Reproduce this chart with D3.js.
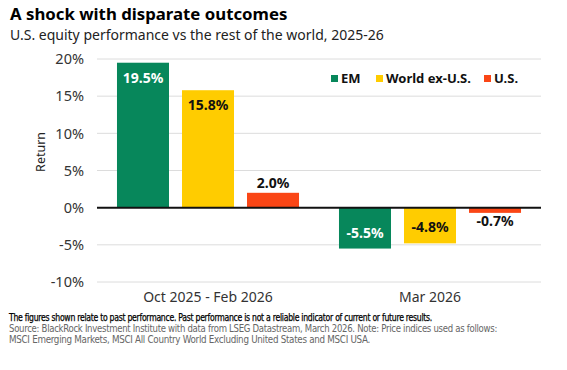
<!DOCTYPE html>
<html>
<head>
<meta charset="utf-8">
<script src="https://cdn.jsdelivr.net/npm/d3@7"></script>
<style>
  body { margin: 0; background: #fff; }
  text { font-family: "Noto Sans", "DejaVu Sans", sans-serif; }
  .foot { font-family: "Liberation Sans Narrow", "DejaVu Sans Condensed", "Liberation Sans", sans-serif; }
</style>
</head>
<body>
<div id="chart"></div>
<script>
const width = 567;
const height = 370;

// data
const periods = ["Oct 2025 - Feb 2026", "Mar 2026"];
const seriesNames = ["EM", "World ex-U.S.", "U.S."];
const emValues = [19.5, -5.5];
const worldValues = [15.8, -4.8];
const usValues = [2.0, -0.7];
const yTicks = [-10, -5, 0, 5, 10, 15, 20];
const colors = ["#07875b", "#ffcc00", "#fa4616"];
const labelColors = ["#fff", "#111", "#111"];

const allValues = [emValues, worldValues, usValues];
const rows = [];
periods.forEach((p, i) => {
  seriesNames.forEach((s, j) => {
    rows.push({ period: p, series: s, idx: j, value: allValues[j][i] });
  });
});

const margin = { left: 97, right: 26, top: 59, bottom: 88 };

const svg = d3.select("#chart")
  .append("svg")
  .attr("width", width)
  .attr("height", height);

const x0 = d3.scaleBand()
  .domain(periods)
  .range([margin.left, width - margin.right])
  .paddingInner(0.18)
  .paddingOuter(0.09);

const x1 = d3.scaleBand()
  .domain(seriesNames)
  .range([0, x0.bandwidth()])
  .paddingInner(0.2);

const y = d3.scaleLinear()
  .domain([-10, 20])
  .range([282, 59]);

// title
svg.append("text")
  .attr("x", 10)
  .attr("y", 20)
  .style("font-size", "16.8px")
  .style("font-weight", "bold")
  .style("fill", "#000")
  .text("A shock with disparate outcomes");

svg.append("text")
  .attr("x", 10)
  .attr("y", 40)
  .style("font-size", "14px")
  .style("fill", "#222")
  .text("U.S. equity performance vs the rest of the world, 2025-26");

// gridlines
svg.append("g")
  .selectAll("line")
  .data(yTicks.filter(d => d !== 0))
  .enter().append("line")
  .attr("x1", margin.left)
  .attr("x2", width - margin.right)
  .attr("y1", d => y(d))
  .attr("y2", d => y(d))
  .attr("stroke", "#dcdcdc")
  .attr("stroke-width", 1);

// y axis labels
svg.append("g")
  .selectAll("text")
  .data(yTicks)
  .enter().append("text")
  .attr("x", 84)
  .attr("y", d => y(d))
  .attr("dy", "0.36em")
  .attr("text-anchor", "end")
  .style("font-size", "14.5px")
  .style("fill", "#333")
  .text(d => d + "%");

svg.append("text")
  .attr("transform", `translate(45, ${y(7.5)}) rotate(-90)`)
  .attr("text-anchor", "middle")
  .style("font-size", "12.5px")
  .style("fill", "#222")
  .text("Return");

// bars
svg.append("g")
  .selectAll("rect")
  .data(rows)
  .enter().append("rect")
  .attr("x", d => x0(d.period) + x1(d.series))
  .attr("width", x1.bandwidth())
  .attr("y", d => y(Math.max(0, d.value)))
  .attr("height", d => Math.abs(y(d.value) - y(0)))
  .attr("fill", d => colors[d.idx]);

// zero line
svg.append("line")
  .attr("x1", margin.left)
  .attr("x2", width - margin.right)
  .attr("y1", y(0))
  .attr("y2", y(0))
  .attr("stroke", "#111")
  .attr("stroke-width", 2);

// value labels: inside the bar when it is tall enough, else outside
const isSmall = d => Math.abs(y(d.value) - y(0)) < 25;

svg.append("g")
  .selectAll("text")
  .data(rows)
  .enter().append("text")
  .attr("x", d => x0(d.period) + x1(d.series) + x1.bandwidth() / 2)
  .attr("y", d => {
    if (d.value >= 0) return isSmall(d) ? y(d.value) - 5 : y(d.value) + 20;
    return isSmall(d) ? y(d.value) + 13 : y(d.value) - 11;
  })
  .attr("text-anchor", "middle")
  .style("font-size", "14px")
  .style("font-weight", "bold")
  .style("fill", d => isSmall(d) ? "#111" : labelColors[d.idx])
  .text(d => d.value.toFixed(1) + "%");

// x labels
svg.append("g")
  .selectAll("text")
  .data(periods)
  .enter().append("text")
  .attr("x", d => x0(d) + x0.bandwidth() / 2)
  .attr("y", 302)
  .attr("text-anchor", "middle")
  .style("font-size", "14px")
  .style("fill", "#333")
  .text(d => d);

// legend
const legendX = [331, 376, 484];
const legend = svg.append("g")
  .selectAll("g")
  .data(seriesNames)
  .enter().append("g")
  .attr("transform", (d, i) => `translate(${legendX[i]}, 75)`);

legend.append("rect")
  .attr("width", 7)
  .attr("height", 7)
  .attr("fill", (d, i) => colors[i]);

legend.append("text")
  .attr("x", 10)
  .attr("y", 7.5)
  .style("font-size", "13px")
  .style("font-weight", "bold")
  .style("fill", "#111")
  .text(d => d);

// footer
const footLines = [
  { text: "The figures shown relate to past performance. Past performance is not a reliable indicator of current or future results.", y: 321, len: 423, fill: "#000", stroke: "#000" },
  { text: "Source: BlackRock Investment Institute with data from LSEG Datastream, March 2026. Note: Price indices used as follows:", y: 332, len: 488, fill: "#666", stroke: "none" },
  { text: "MSCI Emerging Markets, MSCI All Country World Excluding United States and MSCI USA.", y: 343, len: 361, fill: "#666", stroke: "none" }
];

svg.append("g")
  .selectAll("text")
  .data(footLines)
  .enter().append("text")
  .attr("class", "foot")
  .attr("x", 9)
  .attr("y", d => d.y)
  .attr("textLength", d => d.len)
  .attr("lengthAdjust", "spacingAndGlyphs")
  .style("font-size", "9.8px")
  .style("letter-spacing", "-0.3px")
  .style("fill", d => d.fill)
  .style("stroke", d => d.stroke)
  .style("stroke-width", 0.25)
  .text(d => d.text);
</script>
</body>
</html>
